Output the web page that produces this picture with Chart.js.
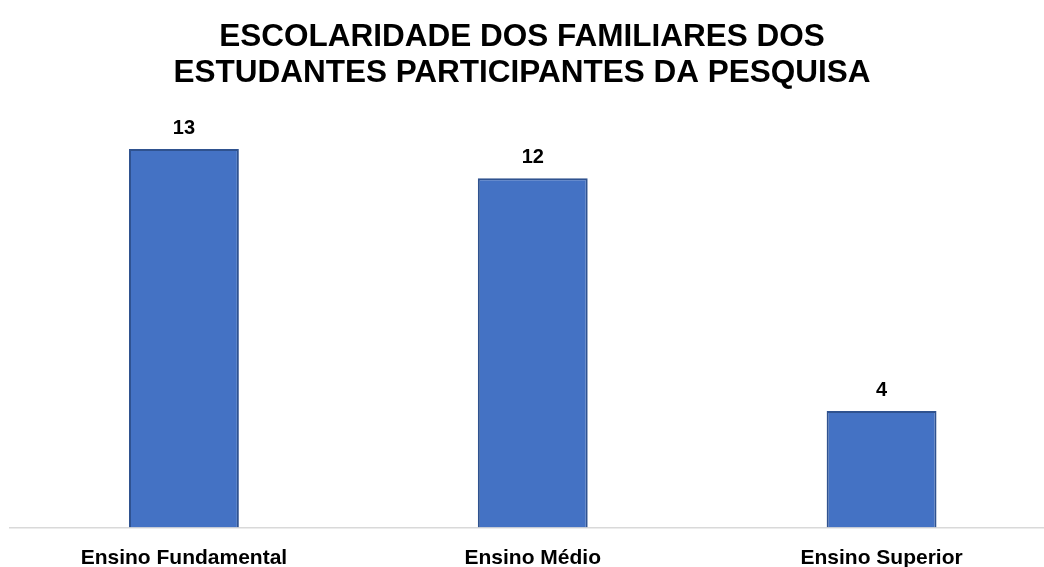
<!DOCTYPE html>
<html>
<head>
<meta charset="utf-8">
<script src="https://cdn.jsdelivr.net/npm/chart.js@4.4.1/dist/chart.umd.min.js"></script>
<style>
  html, body { margin: 0; padding: 0; background: #ffffff; overflow: hidden; width: 1044px; height: 567px; }
  #wrap { position: relative; width: 1068px; height: 567px; margin-left: -12px; }
</style>
</head>
<body>
<div id="wrap"><canvas id="c"></canvas></div>
<script>
const categories = ['Ensino Fundamental', 'Ensino Médio', 'Ensino Superior'];
const values = [13, 12, 4];
const titleLines = ['ESCOLARIDADE DOS FAMILIARES DOS', 'ESTUDANTES PARTICIPANTES DA PESQUISA'];

const FONT = "'Liberation Sans', Arial, sans-serif";

const valueLabels = {
  id: 'valueLabels',
  afterDatasetsDraw(chart) {
    const ctx = chart.ctx;
    const meta = chart.getDatasetMeta(0);
    ctx.save();
    ctx.font = "bold 20px " + FONT;
    ctx.fillStyle = '#000000';
    ctx.textAlign = 'center';
    ctx.textBaseline = 'middle';
    meta.data.forEach((bar, i) => {
      ctx.fillText(String(chart.data.datasets[0].data[i]), bar.x, bar.y - 21);
    });
    ctx.restore();
  }
};

new Chart(document.getElementById('c'), {
  type: 'bar',
  data: {
    labels: categories,
    datasets: [{
      data: values,
      backgroundColor: '#4472C4',
      borderColor: '#2F528F',
      borderWidth: 2,
      barPercentage: 0.315,
      categoryPercentage: 1.0
    }]
  },
  options: {
    responsive: true,
    maintainAspectRatio: false,
    animation: false,
    layout: { padding: 0 },
    plugins: {
      legend: { display: false },
      tooltip: { enabled: false },
      title: {
        display: true,
        text: titleLines,
        color: '#000000',
        font: { family: FONT, size: 31.5, weight: 'bold', lineHeight: 1.15 },
        padding: { top: 19, bottom: 28.5 }
      }
    },
    scales: {
      x: {
        grid: { display: false, drawTicks: false },
        border: { display: true, color: '#D9D9D9', width: 1.5 },
        ticks: {
          color: '#000000',
          font: { family: FONT, size: 21, weight: 'bold' },
          padding: 18,
          maxRotation: 0
        },
        afterFit(scale) { scale.height = 39.5; }
      },
      y: {
        display: true,
        min: 0,
        max: 14,
        grid: { display: false, drawTicks: false },
        border: { display: false },
        ticks: { display: false },
        afterFit(scale) { scale.width = 21.5; }
      }
    }
  },
  plugins: [valueLabels]
});
</script>
</body>
</html>
